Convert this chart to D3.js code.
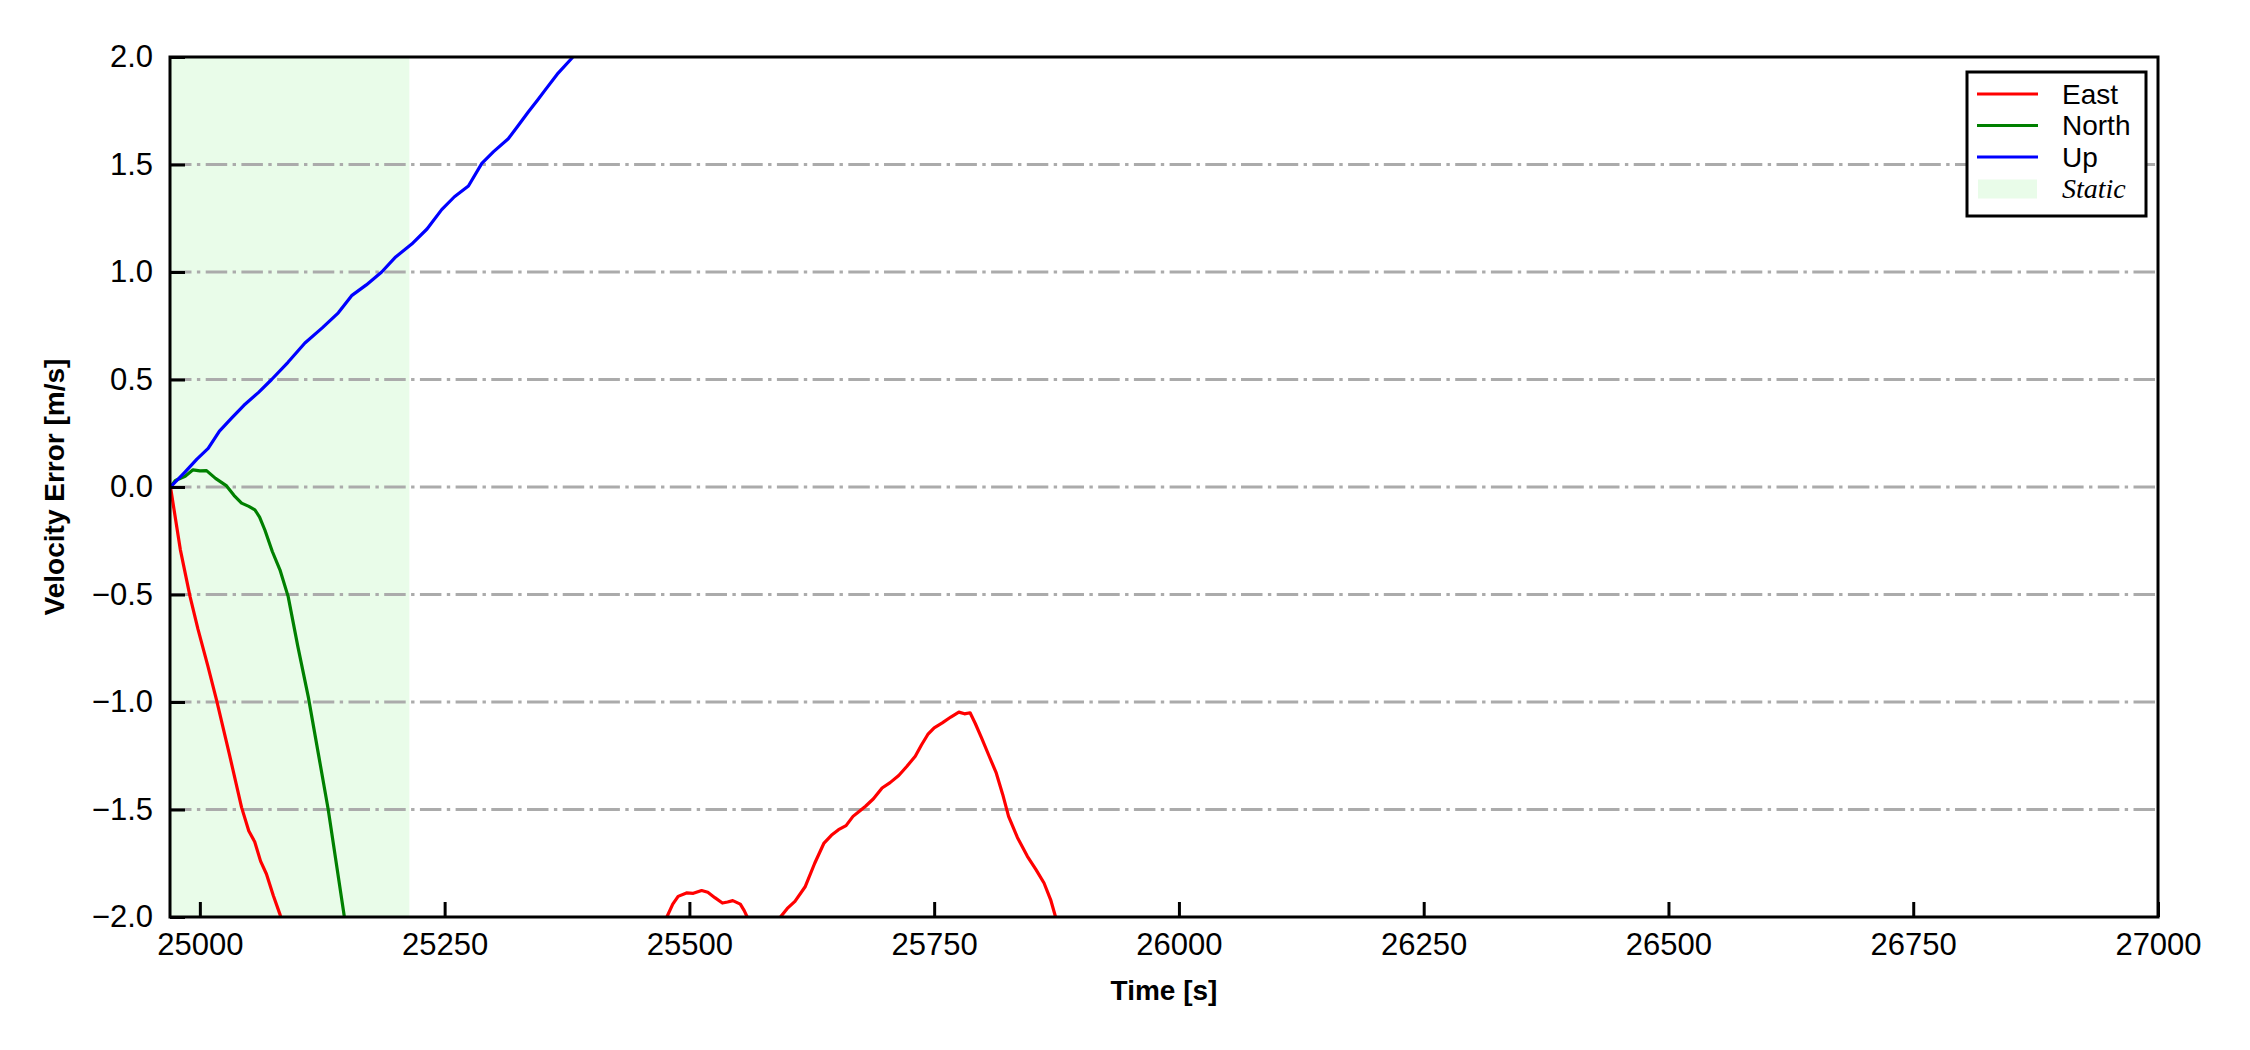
<!DOCTYPE html>
<meta charset="utf-8" />
<html>
<head>
<script src="https://d3js.org/d3.v7.min.js"></script>
<style>
  body { margin: 0; background: #fff; }
  text { font-family: "Liberation Sans", Arial, sans-serif; }
</style>
</head>
<body>
<script>
// time [s], velocity error [m/s]; NaN splits the line where it leaves the axes
var east = [
  [24970, 0], [24980, -0.29], [24990, -0.51], [24998, -0.66], [25008, -0.83], [25017, -0.99],
  [25030, -1.24], [25042.6, -1.49], [25050, -1.60], [25056, -1.65], [25062, -1.74], [25068, -1.80],
  [25075, -1.90], [25082, -1.99], [25088, -2.12],
  [NaN, NaN],
  [25472, -2.12], [25477, -2.0], [25483, -1.94], [25488.5, -1.904], [25497, -1.888], [25504, -1.89],
  [25512.5, -1.877], [25518.8, -1.885], [25526, -1.91], [25533.7, -1.935], [25539, -1.93],
  [25544.3, -1.924], [25552, -1.94], [25556, -1.97], [25559, -2.0], [25563, -2.12],
  [NaN, NaN],
  [25589, -2.12], [25593, -2.0], [25600, -1.96], [25607.8, -1.927], [25618.4, -1.858],
  [25628, -1.75], [25637.5, -1.656], [25645, -1.62], [25652.3, -1.594], [25660, -1.575],
  [25667.1, -1.532], [25673, -1.51], [25679.9, -1.485], [25688, -1.45], [25696.8, -1.40],
  [25705, -1.375], [25713.8, -1.342], [25722, -1.30], [25730.7, -1.252], [25737, -1.20],
  [25743.5, -1.151], [25750, -1.12], [25758.3, -1.097], [25767, -1.07], [25775.2, -1.047],
  [25781, -1.055], [25786.7, -1.05], [25792, -1.10], [25798.5, -1.168], [25806, -1.25],
  [25813.4, -1.33], [25820, -1.43], [25826, -1.532], [25835, -1.63], [25845.2, -1.718],
  [25854, -1.78], [25862.2, -1.842], [25869, -1.92], [25874, -2.0], [25877, -2.12]
];
var north = [
  [24970, 0.0], [24975, 0.03], [24985, 0.05], [24993, 0.08], [25000, 0.075],
  [25006.8, 0.076], [25016, 0.04], [25027.3, 0.005], [25035, -0.04], [25042.6, -0.075],
  [25050, -0.09], [25056.2, -0.106], [25061, -0.14], [25066.4, -0.2], [25074, -0.30],
  [25081.8, -0.385], [25090.2, -0.51], [25100, -0.74], [25110.7, -0.975], [25121, -1.24],
  [25131.1, -1.50], [25139, -1.74], [25147.5, -1.997], [25151, -2.13]
];
var up = [
  [24970, 0.0], [24985, 0.07], [24997, 0.13], [25008.5, 0.18], [25020, 0.26], [25032.4, 0.32],
  [25045, 0.38], [25060, 0.44], [25073.3, 0.50], [25090, 0.58], [25107.3, 0.67], [25125, 0.74],
  [25141.4, 0.81], [25155, 0.89], [25170, 0.94], [25185.7, 1.00], [25200, 1.07], [25216.4, 1.13],
  [25232, 1.20], [25247, 1.29], [25260, 1.35], [25274.3, 1.40], [25288, 1.505], [25300, 1.56],
  [25315, 1.62], [25325, 1.68], [25335.6, 1.745], [25345, 1.80], [25352.6, 1.846], [25365, 1.92],
  [25379.9, 1.994], [25392, 2.08]
];
var staticSpan = [24969.5, 25214];

var xDomain = [24969.5, 27000];
var yDomain = [-2, 2];
var xTicks = [25000, 25250, 25500, 25750, 26000, 26250, 26500, 26750, 27000];
var yTicks = [-2.0, -1.5, -1.0, -0.5, 0.0, 0.5, 1.0, 1.5, 2.0];

var series = [
  {name: 'East', data: east, color: '#ff0000'},
  {name: 'North', data: north, color: '#008000'},
  {name: 'Up', data: up, color: '#0000ff'}
];

var W = 2250, H = 1050;
var margin = {top: 57, right: 92, bottom: 133, left: 170};
var width = W - margin.left - margin.right;
var height = H - margin.top - margin.bottom;

var svg = d3.select('body').append('svg')
    .attr('width', W)
    .attr('height', H);
var g = svg.append('g')
    .attr('transform', 'translate(' + margin.left + ',' + margin.top + ')');

var x = d3.scaleLinear().domain(xDomain).range([0, width]);
var y = d3.scaleLinear().domain(yDomain).range([height, 0]);

g.append('clipPath').attr('id', 'clip')
  .append('rect').attr('width', width).attr('height', height);

// static period shading
g.append('rect')
    .attr('x', x(staticSpan[0]))
    .attr('y', 0)
    .attr('width', x(staticSpan[1]) - x(staticSpan[0]))
    .attr('height', height)
    .attr('fill', '#e9fce9');

// dash-dot grid
g.append('g').selectAll('line')
    .data(yTicks.slice(1, -1))
    .enter()
    .append('line')
    .attr('x1', 0).attr('x2', width)
    .attr('y1', function(d) { return y(d); })
    .attr('y2', function(d) { return y(d); })
    .attr('stroke', '#ababab')
    .attr('stroke-width', 3)
    .attr('stroke-dasharray', '21.5,5.4,3.4,5.4');

var line = d3.line()
    .defined(function(d) { return !isNaN(d[1]); })
    .x(function(d) { return x(d[0]); })
    .y(function(d) { return y(d[1]); });

g.append('g').attr('clip-path', 'url(#clip)')
  .selectAll('path')
    .data(series)
    .enter()
    .append('path')
    .attr('d', function(d) { return line(d.data); })
    .attr('fill', 'none')
    .attr('stroke', function(d) { return d.color; })
    .attr('stroke-width', 3.2)
    .attr('stroke-linejoin', 'round');

// axes, ticks pointing inward
var xAxis = g.append('g')
    .attr('transform', 'translate(0,' + height + ')')
    .call(d3.axisBottom(x).tickValues(xTicks).tickFormat(d3.format('d'))
      .tickSizeInner(-15).tickSizeOuter(0).tickPadding(16));
var yAxis = g.append('g')
    .call(d3.axisLeft(y).tickValues(yTicks).tickFormat(d3.format('.1f'))
      .tickSizeInner(-15).tickSizeOuter(0).tickPadding(17));
[xAxis, yAxis].forEach(function(a) {
  a.select('.domain').remove();
  a.selectAll('.tick line').attr('stroke', '#000').attr('stroke-width', 3);
  a.selectAll('.tick text').attr('fill', '#000')
    .style('font-size', '31px')
    .style('font-family', '"Liberation Sans", Arial, sans-serif');
});
xAxis.selectAll('.tick text').attr('dy', '0.71em');

// frame
g.append('rect')
    .attr('width', width).attr('height', height)
    .attr('fill', 'none').attr('stroke', '#000').attr('stroke-width', 3);

// axis labels
svg.append('text')
    .attr('x', margin.left + width / 2)
    .attr('y', 1000)
    .attr('text-anchor', 'middle')
    .style('font-size', '28px').style('font-weight', 'bold')
    .text('Time [s]');
svg.append('text')
    .attr('transform', 'translate(64,' + (margin.top + height / 2) + ') rotate(-90)')
    .attr('text-anchor', 'middle')
    .style('font-size', '28px').style('font-weight', 'bold')
    .text('Velocity Error [m/s]');

// legend
var legend = svg.append('g').attr('transform', 'translate(1967,72)');
legend.append('rect')
    .attr('width', 179).attr('height', 144)
    .attr('fill', '#fff').attr('stroke', '#000').attr('stroke-width', 3);
var items = series.map(function(s) { return {name: s.name, color: s.color, kind: 'line'}; })
    .concat([{name: 'Static', color: '#e9fce9', kind: 'patch'}]);
var row = legend.selectAll('.item')
    .data(items)
    .enter()
    .append('g')
    .attr('class', 'item')
    .attr('transform', function(d, i) { return 'translate(0,' + (22 + i * 31.5) + ')'; });
row.filter(function(d) { return d.kind == 'line'; })
  .append('line')
    .attr('x1', 10).attr('x2', 71)
    .attr('stroke', function(d) { return d.color; })
    .attr('stroke-width', 3);
row.filter(function(d) { return d.kind == 'patch'; })
  .append('rect')
    .attr('x', 11).attr('y', -9).attr('width', 59).attr('height', 19)
    .attr('fill', function(d) { return d.color; });
row.append('text')
    .attr('x', 95)
    .attr('dy', '0.35em')
    .style('font-size', '28px')
    .style('font-family', function(d) { return d.kind == 'patch' ? '"Liberation Serif", "Times New Roman", serif' : null; })
    .style('font-style', function(d) { return d.kind == 'patch' ? 'italic' : null; })
    .text(function(d) { return d.name; });
</script>
</body>
</html>
